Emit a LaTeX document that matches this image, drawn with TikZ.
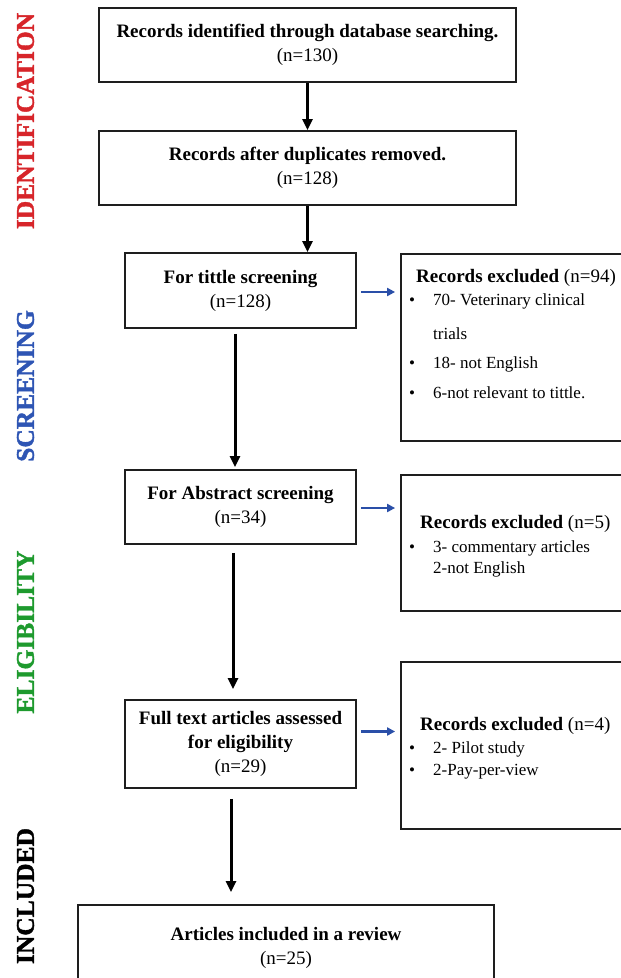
\documentclass[tikz,border=0pt]{standalone}
\usepackage{fontspec}
\setmainfont{Liberation Serif}
\newfontfamily\sidefont{Liberation Serif}[BoldFeatures={FakeBold=1.5}]
\usetikzlibrary{arrows.meta,calc}
\definecolor{idred}{HTML}{D7252A}
\definecolor{scrblue}{HTML}{2E55B4}
\definecolor{elgreen}{HTML}{1E9A2E}
\definecolor{arrblue}{HTML}{2A4FA8}
\definecolor{edge}{HTML}{1E1E1E}
\begin{document}
\begin{tikzpicture}[x=1pt,y=-1pt,
  box/.style={draw=edge, line width=1.8pt, fill=white, align=center, inner sep=0pt, font=\fontsize{19}{24}\selectfont},
  exbox/.style={draw=edge, line width=1.8pt, fill=white, inner sep=0pt},
  blk/.style={line width=3pt, -{Triangle[length=11pt,width=10pt]}},
  bluearr/.style={draw=arrblue, line width=2.2pt, -{Triangle[length=8pt,width=8pt]}, fill=arrblue},
  hdr/.style={anchor=base west, inner sep=0pt, font=\fontsize{19}{22}\selectfont},
  itm/.style={anchor=base west, inner sep=0pt, font=\fontsize{17}{20}\selectfont},
  side/.style={rotate=90, inner sep=0pt, font=\sidefont\bfseries\fontsize{25.5}{28}\selectfont}]
\useasboundingbox (0,0) rectangle (621,978);
\clip (0,0) rectangle (621,978);
\fill[white] (0,0) rectangle (621,978);

% side labels
\node[side, text=idred] (lid) at (25.5,121) {IDENTIFICATION};
\node[side, text=scrblue] (lscr) at (25.5,386) {SCREENING};
\node[side, text=elgreen] (lel) at (25.5,632) {ELIGIBILITY};
\node[side, text=black] (linc) at (25.5,896) {INCLUDED};

% main boxes
\node[box, minimum width=417pt, minimum height=74pt] (b1) at (307.5,45)
  {{\bfseries Records identified through database searching.}\\(n=130)};
\node[box, minimum width=417pt, minimum height=74pt] (b2) at (307.5,168)
  {{\bfseries Records after duplicates removed.}\\(n=128)};
\node[box, minimum width=231pt, minimum height=75pt] (b3) at (240.5,290.5)
  {{\bfseries For tittle screening}\\(n=128)};
\node[box, minimum width=231pt, minimum height=74pt] (b4) at (240.5,507)
  {{\bfseries For Abstract screening}\\(n=34)};
\node[box, minimum width=231pt, minimum height=88pt] (b5) at (240.5,744)
  {{\bfseries Full text articles assessed}\\{\bfseries for eligibility}\\(n=29)};
\node[box, minimum width=416pt, minimum height=85pt] (b6) at (286,947.5)
  {{\bfseries Articles included in a review}\\(n=25)};

% exclusion boxes
\node[exbox, minimum width=239pt, minimum height=187pt] (ex1) at (520.5,347.5) {};
\node[exbox, minimum width=239pt, minimum height=136pt] (ex2) at (520.5,543) {};
\node[exbox, minimum width=239pt, minimum height=167pt] (ex3) at (520.5,745.5) {};

% exclusion texts
\node[hdr] (h1) at (416,282) {\textbf{Records excluded} (n=94)};
\node[itm] (d11) at (409,305) {•};
\node[itm] (t11) at (433,305) {70- Veterinary clinical};
\node[itm] (t12) at (433,339) {trials};
\node[itm] (d13) at (409,368) {•};
\node[itm] (t13) at (433,368) {18- not English};
\node[itm] (d14) at (409,398) {•};
\node[itm] (t14) at (433,398) {6-not relevant to tittle.};

\node[hdr] (h2) at (420,528) {\textbf{Records excluded} (n=5)};
\node[itm] (d21) at (409,552) {•};
\node[itm] (t21) at (433,552) {3- commentary articles};
\node[itm] (t22) at (433,573) {2-not English};

\node[hdr] (h3) at (420,730) {\textbf{Records excluded} (n=4)};
\node[itm] (d31) at (409,753) {•};
\node[itm] (t31) at (433,753) {2- Pilot study};
\node[itm] (d32) at (409,775) {•};
\node[itm] (t32) at (433,775) {2-Pay-per-view};

% black arrows
\draw[blk] (b1.south) -- (b2.north);
\draw[blk] (b2.south) -- (b2.south |- b3.north);
\draw[blk, shorten <=5pt, shorten >=2pt] ([xshift=-5.5pt]b3.south) -- ([xshift=-5.5pt]b3.south |- b4.north);
\draw[blk, shorten <=8pt, shorten >=10pt] ([xshift=-7.5pt]b4.south) -- ([xshift=-7.5pt]b4.south |- b5.north);
\draw[blk, shorten <=10pt, shorten >=12pt] ([xshift=-9.5pt]b5.south) -- ([xshift=-9.5pt]b5.south |- b6.north);

% blue arrows
\draw[bluearr, shorten <=4pt, shorten >=5pt] ([yshift=-1.5pt]b3.east) -- ([yshift=-1.5pt]b3.east -| ex1.west);
\draw[bluearr, shorten <=4pt, shorten >=5pt] ([yshift=-1pt]b4.east) -- ([yshift=-1pt]b4.east -| ex2.west);
\draw[bluearr, shorten <=4pt, shorten >=5pt] ([yshift=12.5pt]b5.east) -- ([yshift=12.5pt]b5.east -| ex3.west);
\end{tikzpicture}
\end{document}
